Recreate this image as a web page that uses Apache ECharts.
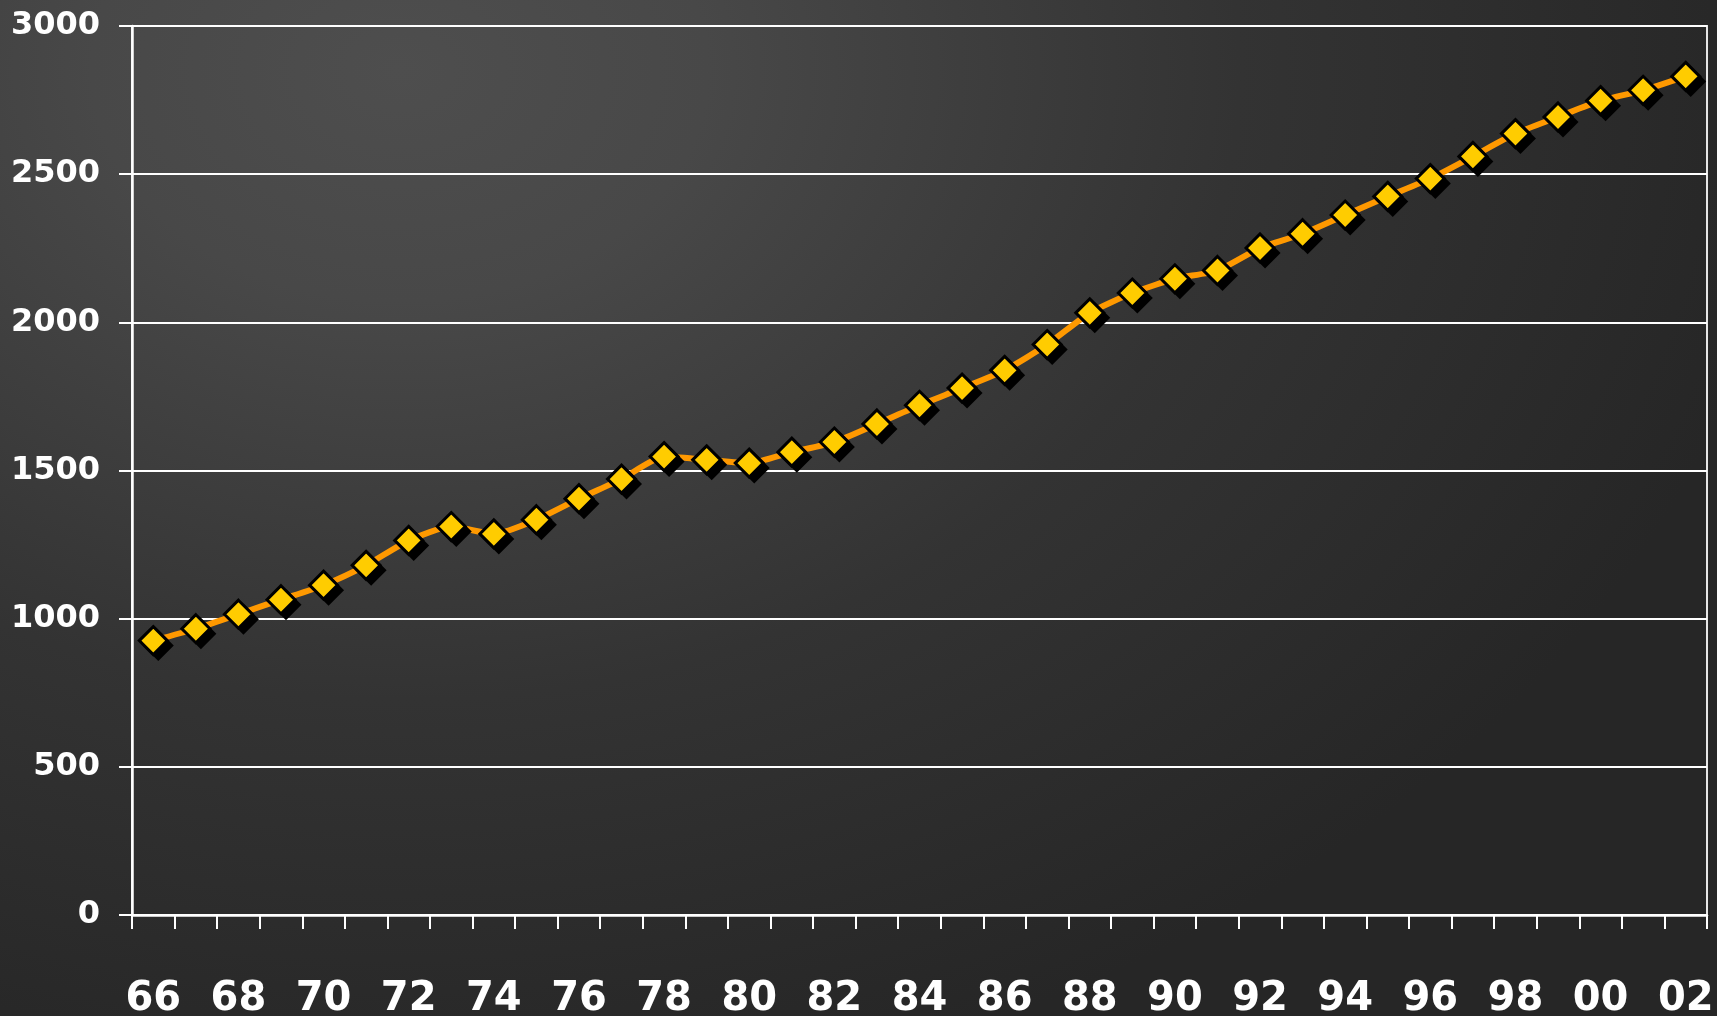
<!DOCTYPE html>
<html>
<head>
<meta charset="utf-8">
<script src="https://cdn.jsdelivr.net/npm/echarts@6/dist/echarts.min.js"></script>
<style>
  html, body { margin: 0; padding: 0; width: 1717px; height: 1016px; overflow: hidden; }
  body { background: radial-gradient(ellipse 1400px 1050px at 400px 70px, #4e4e4e 0%, #484848 22%, #333333 60%, #262626 100%); }
  #chart { width: 1717px; height: 1016px; }
</style>
</head>
<body>
<div id="chart"></div>
<script>
const years = ['66','67','68','69','70','71','72','73','74','75','76','77','78','79','80','81','82','83','84','85','86','87','88','89','90','91','92','93','94','95','96','97','98','99','00','01','02'];
const values = [926, 966, 1015, 1064, 1113, 1180, 1264, 1311, 1286, 1334, 1405, 1471, 1547, 1536, 1525, 1562, 1596, 1657, 1720, 1778, 1838, 1925, 2032, 2099, 2147, 2175, 2251, 2299, 2362, 2425, 2485, 2560, 2637, 2693, 2748, 2783, 2830];
const yMin = 0, yMax = 3000, yStep = 500;

const chart = echarts.init(document.getElementById('chart'), null, { renderer: 'canvas' });
chart.setOption({
  animation: false,
  backgroundColor: 'transparent',
  grid: {
    left: 132, right: 10, top: 26, bottom: 101,
    containLabel: false,
    outerBoundsMode: 'none',
    show: true,
    borderColor: '#e6e6e6',
    borderWidth: 2,
    backgroundColor: 'transparent'
  },
  xAxis: {
    type: 'category',
    data: years,
    boundaryGap: true,
    axisLine: { show: true, lineStyle: { color: '#ffffff', width: 2.5 } },
    axisTick: { show: true, interval: 0, length: 14, inside: false, alignWithLabel: false, lineStyle: { color: '#ffffff', width: 2 } },
    axisLabel: {
      interval: 1,
      margin: 65,
      color: '#ffffff',
      fontFamily: 'DejaVu Sans',
      fontWeight: 'bold',
      fontSize: 40
    },
    splitLine: { show: false }
  },
  yAxis: {
    type: 'value',
    min: yMin, max: yMax, interval: yStep,
    axisLine: { show: true, lineStyle: { color: '#ffffff', width: 2.5 } },
    axisTick: { show: true, length: 13, lineStyle: { color: '#ffffff', width: 2 } },
    axisLabel: {
      margin: 32,
      color: '#ffffff',
      fontFamily: 'DejaVu Sans',
      fontWeight: 'bold',
      fontSize: 32,
      formatter: function (v) { return String(v); }
    },
    splitLine: { show: true, lineStyle: { color: '#ffffff', width: 2 } }
  },
  series: [
    {
      name: 'line',
      type: 'line',
      data: values,
      smooth: 0.2,
      symbol: 'none',
      z: 2,
      lineStyle: { color: '#ff9900', width: 6 },
      emphasis: { disabled: true }
    },
    {
      name: 'shadow',
      type: 'line',
      data: values,
      showAllSymbol: true,
      symbol: 'diamond',
      symbolSize: 31,
      symbolOffset: [5, 5],
      z: 3,
      lineStyle: { width: 0, opacity: 0 },
      itemStyle: { color: '#000000', borderWidth: 0 },
      emphasis: { disabled: true }
    },
    {
      name: 'markers',
      type: 'line',
      data: values,
      showAllSymbol: true,
      symbol: 'diamond',
      symbolSize: 28,
      z: 4,
      lineStyle: { width: 0, opacity: 0 },
      itemStyle: { color: '#ffcc00', borderColor: '#000000', borderWidth: 3 },
      emphasis: { disabled: true }
    }
  ]
});
</script>
</body>
</html>
